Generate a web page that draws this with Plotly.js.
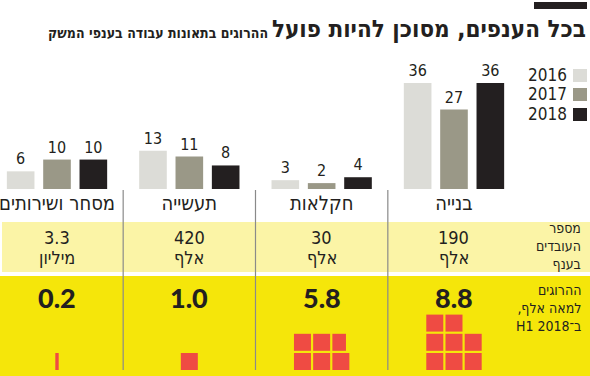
<!DOCTYPE html>
<html><head><meta charset="utf-8">
<script src="https://cdn.plot.ly/plotly-3.0.1.min.js"></script>
<style>html,body{margin:0;padding:0;background:#fff;} #chart{width:590px;height:376px;}</style>
</head><body><div id="chart"></div>
<script>
// ---- data ----
const categories = ['מסחר ושירותים','תעשייה','חקלאות','בנייה'];
const years = ['2016','2017','2018'];
const deaths2016 = [6, 13, 3, 36];
const deaths2017 = [10, 11, 2, 27];
const deaths2018 = [10, 8, 4, 36];
const workersCount = ['3.3','420','30','190'];
const workersUnit = ['מיליון','אלף','אלף','אלף'];
const ratePer100k = ['0.2','1.0','5.8','8.8'];
const iconUnits = [0.2, 1.0, 5.8, 8];
const rowLabel1 = ['מספר','העובדים','בענף'];
const rowLabel2 = ['ההרוגים','למאה אלף,','ב־H1 2018'];
const titleText = 'בכל הענפים, מסוכן להיות פועל';
const subtitleText = 'ההרוגים בתאונות עבודה בענפי המשק';

// ---- styles ----
const W = 590, H = 376;
const py = v => 1 - v / H;     // pixel row -> paper
const pxp = v => v / W;        // pixel col -> paper
const PXU = 132.33, X0 = 57;   // pixels per category, pixel of first category
const xu = p => p / PXU;       // pixels -> x units
const RLE = '\u202B', PDF = '\u202C';
const rtl = s => RLE + s + PDF;
const COND = '"Liberation Sans Narrow", "DejaVu Sans Condensed", "Liberation Sans", sans-serif';
const BOLDNUM = 'Lato, "Open Sans", sans-serif';
const INK = '#231f20';
const colors = ['#dcdcd7', '#9a9887', '#231f20'];
const series = [deaths2016, deaths2017, deaths2018];

const traces = series.map((vals, k) => ({
  type: 'bar', x: categories, y: vals, name: years[k],
  marker: {color: colors[k]},
  text: vals.map(String), textposition: 'outside', textangle: 0,
  textfont: {family: COND, size: 16, color: INK},
  cliponaxis: false, hoverinfo: 'skip', showlegend: false
}));

const shapes = [];
const annotations = [];

// top black rule
shapes.push({type:'rect', xref:'paper', yref:'paper', x0:pxp(534), x1:pxp(587), y0:py(9), y1:py(2), fillcolor:INK, line:{width:0}});

// table bands
shapes.push({type:'rect', xref:'paper', yref:'paper', x0:pxp(2), x1:1, y0:py(272), y1:py(222), fillcolor:'#fbf4a6', line:{width:0}, layer:'below'});
shapes.push({type:'rect', xref:'paper', yref:'paper', x0:0, x1:1, y0:0, y1:py(276), fillcolor:'#f5e60a', line:{width:0}, layer:'below'});

// separators between categories
for (let i = 0; i < categories.length - 1; i++) {
  shapes.push({type:'line', xref:'x', yref:'paper', x0:i+0.5, x1:i+0.5, y0:py(370), y1:py(190), line:{color:'#8a8a8a', width:1.2}});
}

// legend (text left, swatch right)
const legY = [75, 94, 114];
years.forEach((yr, k) => {
  shapes.push({type:'rect', xref:'paper', yref:'paper', x0:pxp(573), x1:pxp(587), y0:py(legY[k]+7), y1:py(legY[k]-6), fillcolor:colors[k], line:{width:0}});
  annotations.push({xref:'paper', yref:'paper', x:pxp(569), y:py(legY[k]), xanchor:'right', yanchor:'middle', text:yr, showarrow:false, font:{family:COND, size:17, color:INK}});
});

// subtitle
annotations.push({xref:'paper', yref:'paper', x:pxp(270), y:py(33), xanchor:'right', yanchor:'middle', text:rtl(subtitleText), showarrow:false, font:{family:COND, size:14, weight:700, color:INK}});

// rows: workers and rate
categories.forEach((c, i) => {
  annotations.push({xref:'x', yref:'paper', x:i, y:py(237), xanchor:'center', yanchor:'middle', text:workersCount[i], showarrow:false, font:{family:COND, size:18, color:INK}});
  annotations.push({xref:'x', yref:'paper', x:i, y:py(257), xanchor:'center', yanchor:'middle', text:rtl(workersUnit[i]), showarrow:false, font:{family:COND, size:18, color:INK}});
  annotations.push({xref:'x', yref:'paper', x:i, y:py(297), xanchor:'center', yanchor:'middle', text:ratePer100k[i], showarrow:false, font:{family:BOLDNUM, size:27, weight:900, color:INK}});
});
annotations.push({xref:'paper', yref:'paper', x:pxp(583), y:py(246), xanchor:'right', yanchor:'middle', align:'right', text:rowLabel1.map(rtl).join('<br>'), showarrow:false, font:{family:COND, size:14, color:INK}});
annotations.push({xref:'paper', yref:'paper', x:pxp(583), y:py(308), xanchor:'right', yanchor:'middle', align:'right', text:rowLabel2.map(rtl).join('<br>'), showarrow:false, font:{family:COND, size:14, color:INK}});

// pictogram squares: one square per death per 100k, 3 per row, bottom-up
const S = 17, P = 19.2, BOTTOM = 370;
iconUnits.forEach((v, i) => {
  const cells = Math.ceil(v - 1e-9);
  const ncols = Math.min(3, cells);
  const gridW = ncols * S + (ncols - 1) * (P - S);
  const left = i - xu(gridW) / 2;
  for (let k = 0; k < cells; k++) {
    const frac = Math.min(1, v - k);
    const row = Math.floor(k / 3), col = k % 3;
    let x0 = left + xu(col * P);
    let w = xu(S * frac);
    if (cells === 1 && frac < 1) x0 = i - w / 2;
    const yb = BOTTOM - row * P;
    shapes.push({type:'rect', xref:'x', yref:'paper', x0:x0, x1:x0 + w, y0:py(yb), y1:py(yb - S), fillcolor:'#ef4b43', line:{width:0}});
  }
});

const layout = {
  width: W, height: H,
  margin: {l:0, r:0, t:0, b:0},
  paper_bgcolor: '#ffffff', plot_bgcolor: 'rgba(0,0,0,0)',
  title: {text: rtl(titleText), font:{family:COND, size:24, weight:700, color:INK}, xref:'paper', yref:'container', x:pxp(586), xanchor:'right', y:py(29), yanchor:'middle'},
  barmode: 'group', bargap: 0.176, bargroupgap: 0.24,
  showlegend: false, hovermode: false,
  xaxis: {type:'category', range:[-X0/PXU, (W - X0)/PXU], showgrid:false, zeroline:false, showline:false, ticks:'',
          tickfont:{family:COND, size:20, color:INK}, fixedrange:true},
  yaxis: {domain:[py(189), py(60)], range:[0, (189-60)/2.944], visible:false, fixedrange:true},
  shapes: shapes, annotations: annotations
};

Plotly.newPlot('chart', traces, layout, {staticPlot:true, displayModeBar:false});
</script></body></html>
